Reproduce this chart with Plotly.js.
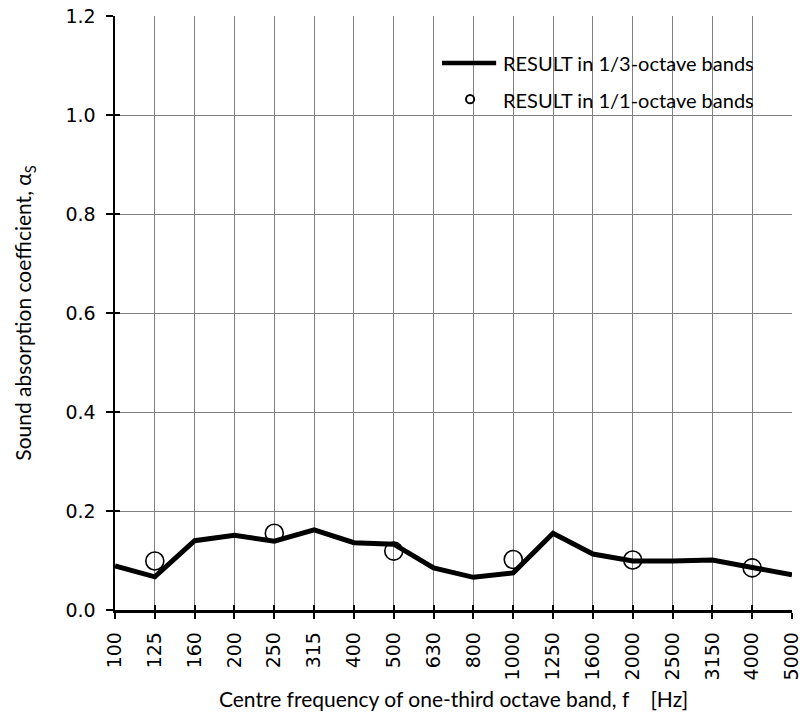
<!DOCTYPE html>
<html><head><meta charset="utf-8">
<script src="https://cdn.plot.ly/plotly-3.0.1.min.js"></script>
<style>html,body{margin:0;padding:0;background:#fff}#c{width:803px;height:717px}</style>
</head><body><div id="c"></div>
<script>
const bands = ["100","125","160","200","250","315","400","500","630","800","1000","1250","1600","2000","2500","3150","4000","5000"];
const thirdOctave = [0.089,0.067,0.140,0.151,0.139,0.162,0.136,0.133,0.085,0.066,0.075,0.155,0.113,0.099,0.099,0.101,0.086,0.071];
const octaveBands = ["125","250","500","1000","2000","4000"];
const octaveValues = [0.099,0.155,0.119,0.102,0.101,0.085];
const yTicks = [0,0.2,0.4,0.6,0.8,1.0,1.2];
const yTickText = ['0.0','0.2','0.4','0.6','0.8','1.0','1.2'];
const legendLabels = ['RESULT in 1/3-octave bands','RESULT in 1/1-octave bands'];

const idx = b => bands.indexOf(b);
const xThird = bands.map((b,i)=>i);
const xOct = octaveBands.map(idx);

const traces = [
  {x:xThird, y:thirdOctave, mode:'lines', line:{color:'#000', width:5}, showlegend:false, hoverinfo:'skip'},
  {x:xOct, y:octaveValues, mode:'markers', marker:{symbol:'circle-open', size:18, color:'#000', line:{width:1.6, color:'#000'}}, showlegend:false},
  {x:[null], y:[null], xaxis:'x2', yaxis:'y2', mode:'markers', showlegend:false, hoverinfo:'skip'}
];

const gridCol = '#808080';
const common = {zeroline:false, fixedrange:true};
const layout = {
  width:803, height:717,
  margin:{l:115, r:11, t:16, b:107},
  paper_bgcolor:'#fff', plot_bgcolor:'#fff',
  font:{family:'DejaVu Sans', color:'#000'},
  showlegend:false,
  xaxis:Object.assign({
    range:[0,17], tickmode:'array', tickvals:xThird, ticktext:bands,
    tickangle:-90, tickfont:{size:19, family:'DejaVu Sans'}, ticklabelstandoff:6,
    showgrid:true, gridcolor:gridCol, gridwidth:1,
    showline:true, linecolor:'#000', linewidth:2.5,
    ticks:'outside', ticklen:6, tickwidth:2, tickcolor:'#000',
    title:{text:'Centre frequency of one-third octave band, f &nbsp;&nbsp;&nbsp;[Hz]', font:{size:21, family:'Lato'}, standoff:13}
  }, common),
  yaxis:Object.assign({
    range:[0,1.2], tickmode:'array', tickvals:yTicks, ticktext:yTickText,
    tickfont:{size:19, family:'DejaVu Sans'}, ticklabelstandoff:6,
    showgrid:true, gridcolor:gridCol, gridwidth:1,
    showline:true, linecolor:'#000', linewidth:2.5,
    ticks:'outside', ticklen:7, tickwidth:2, tickcolor:'#000',
    title:{text:'Sound absorption coefficient, α<sub>S</sub>', font:{size:21, family:'Lato'}, standoff:28}
  }, common),
  xaxis2:Object.assign({
    overlaying:'x', range:[0,17], tickmode:'array', tickvals:xThird, showticklabels:false,
    showgrid:false, showline:false, ticks:'inside', ticklen:5, tickwidth:2, tickcolor:'#000'
  }, common),
  yaxis2:Object.assign({
    overlaying:'y', range:[0,1.2], tickmode:'array', tickvals:yTicks, showticklabels:false,
    showgrid:false, showline:false, ticks:'inside', ticklen:5, tickwidth:2, tickcolor:'#000'
  }, common),
  shapes:[
    {type:'rect', xref:'paper', yref:'paper', x0:0.433, x1:0.996, y0:0.830, y1:0.951, fillcolor:'#fff', line:{width:0}, layer:'between'},
    {type:'line', xref:'paper', yref:'paper', x0:0.483, x1:0.563, y0:0.921, y1:0.921, line:{color:'#000', width:4.5}},
    {type:'circle', xref:'paper', yref:'paper', x0:0.5185, x1:0.5305, y0:0.853, y1:0.867, line:{color:'#000', width:2}}
  ],
  annotations:[
    {xref:'paper', yref:'paper', x:0.570, y:0.921, xanchor:'left', yanchor:'middle', text:legendLabels[0], showarrow:false, font:{size:20, family:'Lato', color:'#000'}},
    {xref:'paper', yref:'paper', x:0.570, y:0.859, xanchor:'left', yanchor:'middle', text:legendLabels[1], showarrow:false, font:{size:20, family:'Lato', color:'#000'}}
  ]
};
Plotly.newPlot('c', traces, layout, {displayModeBar:false, staticPlot:true});
</script></body></html>
